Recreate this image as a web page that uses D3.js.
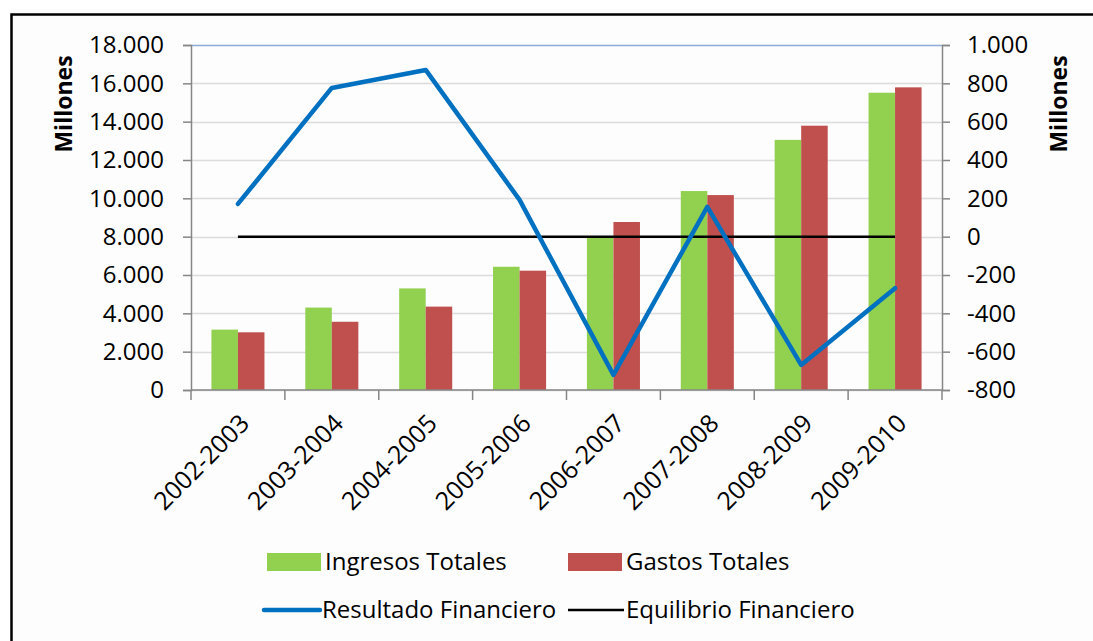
<!DOCTYPE html>
<html>
<head>
<meta charset="utf-8">
<script src="https://cdn.jsdelivr.net/npm/d3@7"></script>
<style>
  html, body { margin: 0; padding: 0; background: #fff; overflow: hidden; }
  svg { display: block; }
</style>
</head>
<body>
<script>
// Datos (millones)
const categories = ["2002-2003", "2003-2004", "2004-2005", "2005-2006", "2006-2007", "2007-2008", "2008-2009", "2009-2010"];
const ingresos   = [3150, 4300, 5300, 6430, 8000, 10380, 13050, 15510];
const gastos     = [3010, 3560, 4350, 6225, 8765, 10170, 13790, 15790];
const resultado  = [171, 776, 870, 192, -721, 155, -669, -269];
const equilibrio = [0, 0, 0, 0, 0, 0, 0, 0];
const leftTicks  = [0, 2000, 4000, 6000, 8000, 10000, 12000, 14000, 16000, 18000];
const rightTicks = [-800, -600, -400, -200, 0, 200, 400, 600, 800, 1000];

const W = 1093, H = 641;
const plot = {left: 191, right: 942, top: 45, bottom: 390};
const font = "'Open Sans', sans-serif";
const green = "#92d050", red = "#c0504d", blue = "#0070c0";

const loc = d3.formatLocale({decimal: ",", thousands: ".", grouping: [3], currency: ["", ""], minus: "-"});
const fmt = loc.format(",d");

const svg = d3.select("body").append("svg")
  .attr("width", W).attr("height", H)
  .style("font-family", font);

// marco del gráfico (sigue fuera de la imagen por la derecha y por abajo)
svg.append("rect")
  .attr("x", 11.5).attr("y", 14.5).attr("width", 1120).attr("height", 700)
  .attr("fill", "#fdfdfd").attr("stroke", "#000").attr("stroke-width", 2.5);

const x = d3.scaleBand().domain(categories).range([plot.left, plot.right]);
const sub = d3.scaleBand().domain(["ing", "gas"]).range([0, x.bandwidth()]).paddingOuter(0.77);
const y0 = d3.scaleLinear().domain([0, 18000]).range([plot.bottom, plot.top]);
const y1 = d3.scaleLinear().domain([-800, 1000]).range([plot.bottom, plot.top]);

// rejilla
svg.append("g").selectAll("line").data(leftTicks).join("line")
  .attr("x1", plot.left).attr("x2", plot.right)
  .attr("y1", d => Math.round(y0(d)) + 0.5).attr("y2", d => Math.round(y0(d)) + 0.5)
  .attr("stroke", d => d === 18000 ? "#8eaadb" : "#dcdcdc")
  .attr("stroke-width", 1.5);

// barras
const bars = svg.append("g");
bars.selectAll(".ing").data(categories).join("rect")
  .attr("x", d => x(d) + sub("ing")).attr("width", sub.bandwidth())
  .attr("y", (d, i) => y0(ingresos[i])).attr("height", (d, i) => y0(0) - y0(ingresos[i]))
  .attr("fill", green);
bars.selectAll(".gas").data(categories).join("rect")
  .attr("x", d => x(d) + sub("gas")).attr("width", sub.bandwidth())
  .attr("y", (d, i) => y0(gastos[i])).attr("height", (d, i) => y0(0) - y0(gastos[i]))
  .attr("fill", red);

// ejes
const axisColor = "#868686";
const gl = svg.append("g").attr("transform", `translate(${plot.left},0)`)
  .call(d3.axisLeft(y0).tickValues(leftTicks).tickFormat(fmt).tickSize(8).tickPadding(19));
const gr = svg.append("g").attr("transform", `translate(${plot.right},0)`)
  .call(d3.axisRight(y1).tickValues(rightTicks).tickFormat(fmt).tickSize(8).tickPadding(17));
for (const g of [gl, gr]) {
  g.select(".domain").attr("stroke", axisColor).attr("stroke-width", 1.5);
  g.selectAll(".tick line").attr("stroke", axisColor).attr("stroke-width", 1.5);
  g.selectAll(".tick text").attr("fill", "#000").style("font-size", "24px").style("font-family", font);
}

// eje x
const gx = svg.append("g");
gx.append("line")
  .attr("x1", plot.left).attr("x2", plot.right)
  .attr("y1", plot.bottom).attr("y2", plot.bottom)
  .attr("stroke", axisColor).attr("stroke-width", 1.5);
gx.selectAll(".xt").data(categories.concat([null])).join("line")
  .attr("x1", (d, i) => i < categories.length ? x(d) : plot.right)
  .attr("x2", (d, i) => i < categories.length ? x(d) : plot.right)
  .attr("y1", plot.bottom).attr("y2", plot.bottom + 10)
  .attr("stroke", axisColor).attr("stroke-width", 1.5);
gx.selectAll("text").data(categories).join("text")
  .attr("transform", d => `translate(${x(d) + x.bandwidth() / 2 + 13},${plot.bottom + 35}) rotate(-45)`)
  .attr("text-anchor", "end")
  .style("font-size", "25px")
  .text(d => d);

// líneas
const cx = d => x(d) + x.bandwidth() / 2;
svg.append("path")
  .datum(categories)
  .attr("d", d3.line().x(cx).y((d, i) => y1(equilibrio[i])))
  .attr("fill", "none").attr("stroke", "#000").attr("stroke-width", 2.5);
svg.append("path")
  .datum(categories)
  .attr("d", d3.line().x(cx).y((d, i) => y1(resultado[i])))
  .attr("fill", "none").attr("stroke", blue).attr("stroke-width", 4.5)
  .attr("stroke-linejoin", "round").attr("stroke-linecap", "round");

// títulos de ejes
svg.append("text")
  .attr("transform", "translate(72,104) rotate(-90)")
  .attr("text-anchor", "middle").style("font-size", "23px").style("font-weight", "bold")
  .text("Millones");
svg.append("text")
  .attr("transform", "translate(1067,104) rotate(-90)")
  .attr("text-anchor", "middle").style("font-size", "23px").style("font-weight", "bold")
  .text("Millones");

// leyenda
const legend = svg.append("g").style("font-size", "24px");
const legendItems = [
  {label: "Ingresos Totales", type: "rect", color: green, x: 267, y: 562},
  {label: "Gastos Totales", type: "rect", color: red, x: 568, y: 562},
  {label: "Resultado Financiero", type: "line", color: blue, x: 264, y: 610},
  {label: "Equilibrio Financiero", type: "line", color: "#000", x: 568, y: 610}
];
for (const it of legendItems) {
  if (it.type === "rect") {
    legend.append("rect").attr("x", it.x).attr("y", it.y - 9).attr("width", 54).attr("height", 18).attr("fill", it.color);
  } else {
    legend.append("line").attr("x1", it.x).attr("x2", it.x + 56).attr("y1", it.y).attr("y2", it.y)
      .attr("stroke", it.color).attr("stroke-width", it.color === blue ? 4.5 : 2.5)
      .attr("stroke-linecap", it.color === blue ? "round" : "butt");
  }
  legend.append("text").attr("x", it.x + 58).attr("y", it.y).attr("dy", "0.35em").text(it.label);
}
</script>
</body>
</html>
